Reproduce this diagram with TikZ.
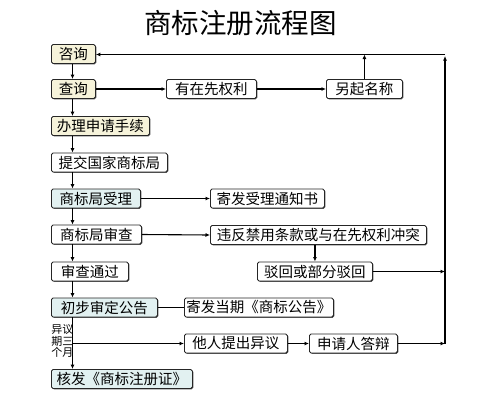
\documentclass[tikz,border=0pt]{standalone}
\usepackage{fontspec}
\newfontfamily\cjk{Noto Sans CJK SC}
\usetikzlibrary{arrows.meta,shadows}
\definecolor{cream}{HTML}{F6F3DA}
\definecolor{lblue}{HTML}{E2F1F1}
\begin{document}
\begin{tikzpicture}[x=1pt,y=-1pt,
  box/.style={draw=black!85, line width=0.9pt, rounded corners=1.6pt, anchor=west,
    minimum height=19pt, inner sep=0pt, fill=white,
    font=\cjk\fontsize{14.5}{16}\selectfont,
    drop shadow={shadow xshift=0.8pt,shadow yshift=-0.8pt,opacity=0.7,fill=black}},
  cbox/.style={box, fill=cream},
  bbox/.style={box, fill=lblue},
  arr/.style={-{Latex[length=4.5pt,width=4pt]}, line width=1.1pt},
  ln/.style={line width=1.1pt}]
\useasboundingbox (0,0) rectangle (500,400);
\node[font=\cjk\fontsize{27.5}{28}\selectfont] (title) at (240.5,23) {商标注册流程图};
\coordinate (spine) at (72.5,0);
\coordinate (tr) at (445,54.5);
\coordinate (br) at (445,343.5);
% left column
\node[cbox, minimum width=44pt] (zx) at (51,54) {咨询};
\node[cbox, minimum width=44pt] (cx) at (51,89) {查询};
\node[cbox, minimum width=98pt] (bl) at (51,126) {办理申请手续};
\node[box, minimum width=116pt] (tj) at (51,162.5) {提交国家商标局};
\node[bbox, minimum width=89pt] (sl) at (51,198.5) {商标局受理};
\node[box, minimum width=90pt] (sc) at (51,234.5) {商标局审查};
\node[box, minimum width=77pt] (tg) at (51,271.5) {审查通过};
\node[bbox, minimum width=106pt] (cb) at (51,307.5) {初步审定公告};
\node[bbox, minimum width=141pt] (hf) at (51,379) {核发《商标注册证》};
% right nodes
\node[box, minimum width=90pt] (yx) at (166,89) {有在先权利};
\node[box, minimum width=76pt] (lq) at (326,89) {另起名称};
\node[box, minimum width=114pt] (jf) at (210,198.5) {寄发受理通知书};
\node[box, minimum width=216pt] (wf) at (210,235) {违反禁用条款或与在先权利冲突};
\node[box, minimum width=115pt] (bh) at (257,271.5) {驳回或部分驳回};
\node[box, minimum width=149pt] (jd) at (184,307.5) {寄发当期《商标公告》};
\node[box, minimum width=103pt] (yy) at (184,343.5) {他人提出异议};
\node[box, minimum width=88pt] (dp) at (309,343.5) {申请人答辩};
\node[anchor=east, align=center, inner sep=0pt, font=\cjk\fontsize{11}{11.5}\selectfont] (lab) at (73.5,341) {异议\\期三\\个月};
% spine arrows
\draw[arr] (zx.south -| spine) -- (cx.north -| spine);
\draw[arr] (cx.south -| spine) -- (bl.north -| spine);
\draw[arr] (bl.south -| spine) -- (tj.north -| spine);
\draw[arr] (tj.south -| spine) -- (sl.north -| spine);
\draw[arr] (sl.south -| spine) -- (sc.north -| spine);
\draw[arr] (sc.south -| spine) -- (tg.north -| spine);
\draw[arr] (tg.south -| spine) -- (cb.north -| spine);
\draw[arr] (cb.south -| spine) -- (hf.north -| spine);
% branches
\draw[arr] (cx.east) -- (yx.west);
\draw[arr] (yx.east) -- (lq.west);
\draw[arr] (lq.north) -- (lq.north |- tr);
\draw[arr] (tr) -- (zx.east |- tr);
\draw[arr, shorten >=1.5pt] (br) -- (tr);
\draw[arr] (sl.east) -- (jf.west);
\draw[arr] (sc.east) -- (wf.west);
\draw[arr] (wf.south -| bh.north) -- (bh.north);
\draw[arr] (bh.east) -- (bh.east -| br);
\draw[ln] (cb.east) -- (jd.west);
\draw[arr] (yy.west -| spine) -- (yy.west);
\draw[arr] (yy.east) -- (dp.west);
\draw[arr] (dp.east) -- (br);
\end{tikzpicture}
\end{document}
